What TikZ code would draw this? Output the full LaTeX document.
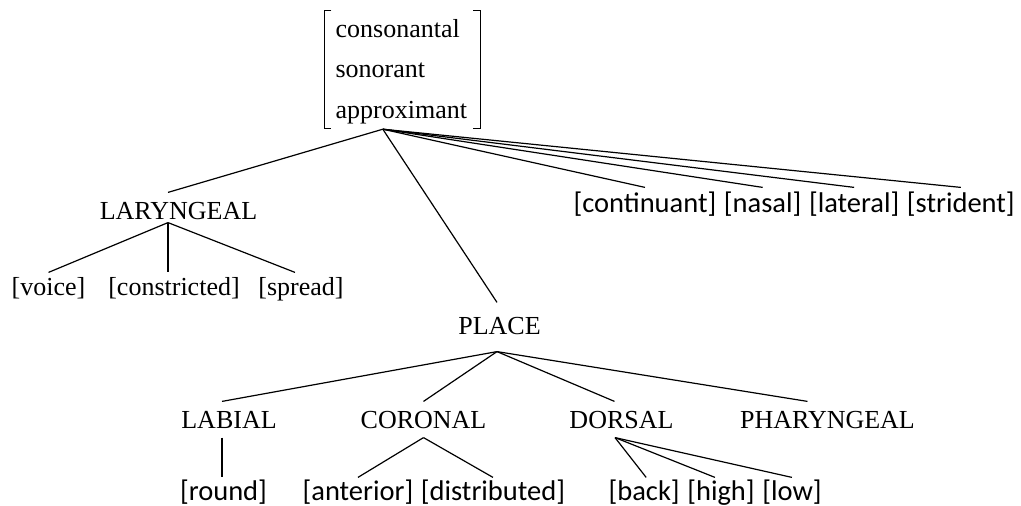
\documentclass[tikz,border=0pt]{standalone}
\usepackage{fontspec}
\setmainfont{Liberation Serif}
\newfontfamily\carlito{Carlito}
\usetikzlibrary{positioning,fit}

\begin{document}
\begin{tikzpicture}[x=1pt,y=-1pt,line width=1.2pt,
    cat/.style={font=\fontsize{26}{30}\selectfont,inner sep=0pt,anchor=base,text height=26pt,text depth=9pt},
    tfeat/.style={font=\fontsize{26}{30}\selectfont,inner sep=0pt,anchor=base,text height=22pt,text depth=6pt},
    feat/.style={font=\carlito\fontsize{28.5}{34}\selectfont,inner sep=0pt,anchor=base west,text height=24pt,text depth=5pt},
    rootfeat/.style={font=\fontsize{26}{30}\selectfont,inner sep=0pt,anchor=base west,text height=18pt,text depth=6pt}]
  \useasboundingbox (0,0) rectangle (1021,506);

  % root bundle
  \node[rootfeat] (cons) at (335,37) {consonantal};
  \node[rootfeat] (son) at (335,77) {sonorant};
  \node[rootfeat] (appr) at (335,118) {approximant};
  \node[fit=(cons)(son)(appr),inner sep=0pt] (box) {};
  \draw[line width=0.9pt] ([xshift=-3pt,yshift=7pt]box.north west) -- ++(-7pt,0pt) |- ([xshift=-3pt,yshift=-3pt]box.south west);
  \draw[line width=0.9pt] ([xshift=5pt,yshift=7pt]box.north east) -- ++(7pt,0pt) |- ([xshift=5pt,yshift=-3pt]box.south east);
  \coordinate (root) at ([xshift=-18.5pt,yshift=-4pt]box.south);

  % laryngeal
  \node[cat,text depth=3pt] (lar) at (178.5,219) {LARYNGEAL};
  \node[tfeat] (voice) at (48.5,295) {[voice]};
  \node[tfeat] (constr) at (174,295) {[constricted]};
  \node[tfeat] (spread) at (301,295) {[spread]};

  % manner
  \node[feat] (cont) at (573,212) {[continuant]};
  \node[feat] (nasal) at ([xshift=6.4pt]cont.base east) {[nasal]};
  \node[feat] (lateral) at ([xshift=6.4pt]nasal.base east) {[lateral]};
  \node[feat] (strident) at ([xshift=6.4pt]lateral.base east) {[strident]};

  % place
  \node[cat,text height=31pt,text depth=17pt] (place) at (499.5,334) {PLACE};
  \node[cat] (labial) at (229,428) {LABIAL};
  \node[cat] (coronal) at (423.5,428) {CORONAL};
  \node[cat] (dorsal) at (621.5,428) {DORSAL};
  \node[cat] (phar) at (827.5,428) {PHARYNGEAL};
  \node[feat,anchor=base,text height=22pt] (round) at (223.5,500) {[round]};
  \node[feat,text height=22pt] (ant) at (302,500) {[anterior]};
  \node[feat,text height=22pt] (dist) at ([xshift=6.4pt]ant.base east) {[distributed]};
  \node[feat,text height=22pt] (back) at (608,500) {[back]};
  \node[feat,text height=22pt] (high) at ([xshift=6.4pt]back.base east) {[high]};
  \node[feat,text height=22pt] (low) at ([xshift=6.4pt]high.base east) {[low]};

  \draw (root) -- ([xshift=-10.5pt]lar.north);
  \draw (root) -- ([xshift=-2.5pt]place.north);
  \foreach \f in {cont,nasal,lateral,strident}
    \draw (root) -- (\f.north);

  \draw ([xshift=-10.5pt]lar.south) -- (voice.north);
  \draw ([xshift=-10.5pt]lar.south) -- ([xshift=-10.5pt]lar.south |- constr.north);
  \draw ([xshift=-10.5pt]lar.south) -- ([xshift=-6pt]spread.north);

  \draw ([xshift=-2.5pt]place.south) -- ([xshift=-7pt]labial.north);
  \draw ([xshift=-2.5pt]place.south) -- (coronal.north);
  \draw ([xshift=-2.5pt]place.south) -- ([xshift=-7pt]dorsal.north);
  \draw ([xshift=-2.5pt]place.south) -- ([xshift=-20pt]phar.north);

  \draw ([xshift=-7pt]labial.south) -- ([xshift=-7pt]labial.south |- round.north);
  \draw (coronal.south) -- (ant.north);
  \draw (coronal.south) -- (dist.north);
  \draw ([xshift=-6.5pt]dorsal.south) -- ([xshift=2pt]back.north);
  \draw ([xshift=-6.5pt]dorsal.south) -- ([xshift=-6pt]high.north);
  \draw ([xshift=-6.5pt]dorsal.south) -- (low.north);
\end{tikzpicture}
\end{document}
